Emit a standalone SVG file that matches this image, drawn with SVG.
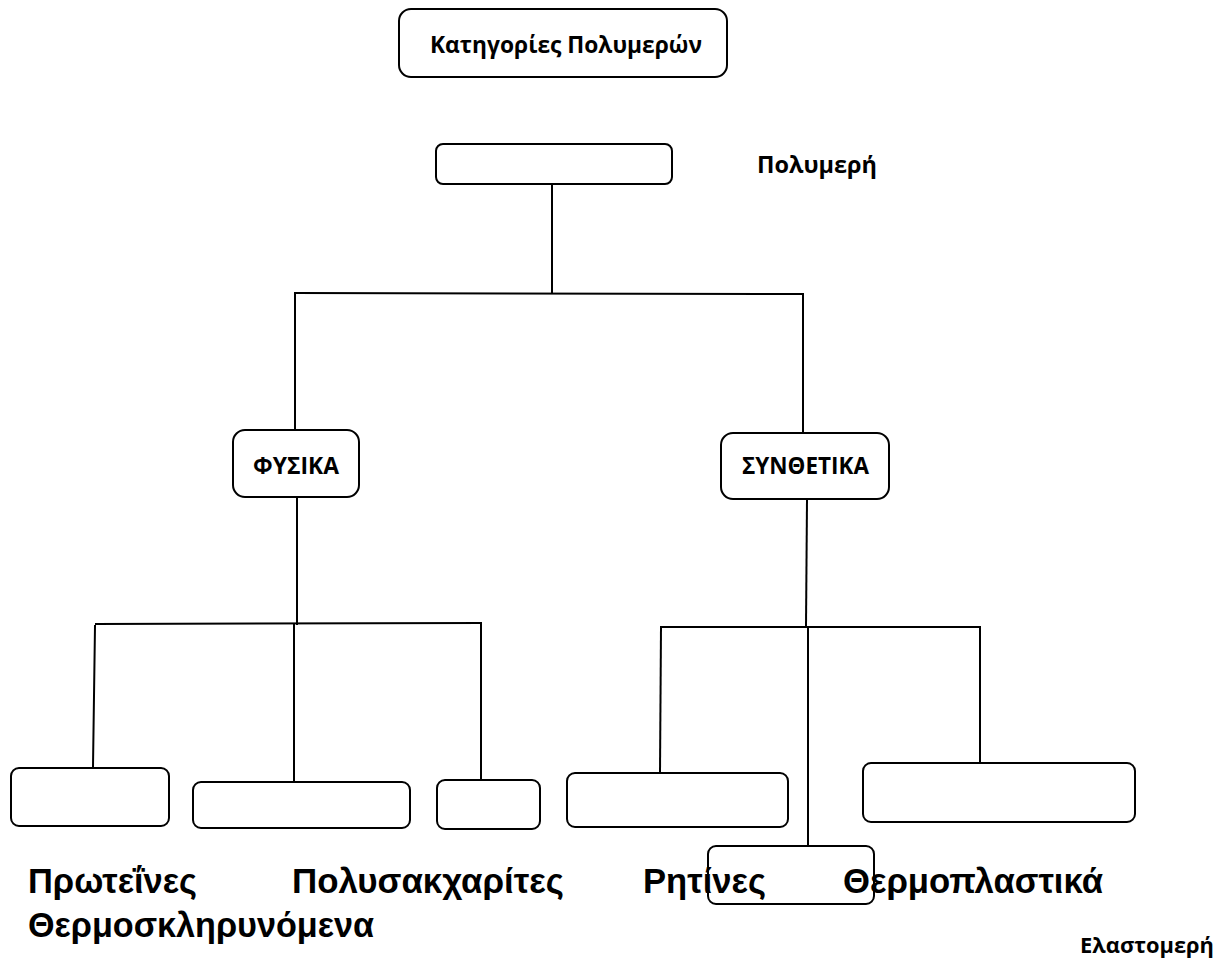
<svg xmlns="http://www.w3.org/2000/svg" width="1220" height="960" viewBox="0 0 1220 960">
<style>
.box{fill:#fff;stroke:#000;stroke-width:2}
.ln{stroke:#000;stroke-width:2;fill:none;stroke-linecap:square}
.s{font-family:"Open Sans","Noto Sans","DejaVu Sans",sans-serif;font-weight:bold;font-size:24px;fill:#000}
.b{font-family:"Liberation Sans",Arial,sans-serif;font-weight:bold;font-size:35px;fill:#000}
</style>
<rect width="1220" height="960" fill="#fff"/>
<g id="connectors">
<line class="ln" x1="552" y1="185" x2="552" y2="293"/>
<line class="ln" x1="295" y1="293" x2="803" y2="294"/>
<line class="ln" x1="295" y1="293" x2="295" y2="430"/>
<line class="ln" x1="803" y1="294" x2="803" y2="433"/>
<line class="ln" x1="297" y1="498" x2="297" y2="624"/>
<line class="ln" x1="96" y1="624" x2="481" y2="623"/>
<line class="ln" x1="95" y1="626" x2="93" y2="767"/>
<line class="ln" x1="294" y1="625" x2="294" y2="781"/>
<line class="ln" x1="481" y1="623" x2="481" y2="779"/>
<line class="ln" x1="807" y1="500" x2="806" y2="627"/>
<line class="ln" x1="661" y1="627" x2="979" y2="627"/>
<line class="ln" x1="661" y1="627" x2="660" y2="773"/>
<line class="ln" x1="808" y1="627" x2="808" y2="846"/>
<line class="ln" x1="980" y1="627" x2="980" y2="763"/>
</g>
<g id="title">
<rect class="box" x="399" y="9" width="328" height="68" rx="12"/>
<text class="s" x="430" y="53" textLength="272" lengthAdjust="spacingAndGlyphs">Κατηγορίες Πολυμερών</text>
</g>
<g id="polymers">
<rect class="box" x="436" y="144" width="236" height="40" rx="7"/>
</g>
<g id="label-polymers">
<text class="s" x="757" y="173" style="font-size:23px" textLength="120" lengthAdjust="spacingAndGlyphs">Πολυμερή</text>
</g>
<g id="natural">
<rect class="box" x="233" y="430" width="126" height="67" rx="12"/>
<text class="s" x="253" y="474" textLength="86" lengthAdjust="spacingAndGlyphs">ΦΥΣΙΚΑ</text>
</g>
<g id="synthetic">
<rect class="box" x="721" y="433" width="168" height="66" rx="12"/>
<text class="s" x="742" y="474" textLength="127" lengthAdjust="spacingAndGlyphs">ΣΥΝΘΕΤΙΚΑ</text>
</g>
<g id="box-n1"><rect class="box" x="11" y="768" width="158" height="58" rx="8"/></g>
<g id="box-n2"><rect class="box" x="193" y="782" width="217" height="46" rx="8"/></g>
<g id="box-n3"><rect class="box" x="437" y="780" width="103" height="49" rx="8"/></g>
<g id="box-s1"><rect class="box" x="567" y="773" width="221" height="54" rx="8"/></g>
<g id="box-s2"><rect class="box" x="863" y="763" width="272" height="59" rx="8"/></g>
<g id="labels">
<text class="b" x="28" y="893" textLength="169" lengthAdjust="spacingAndGlyphs">Πρωτεΐνες</text>
<text class="b" x="292" y="893" textLength="272" lengthAdjust="spacingAndGlyphs">Πολυσακχαρίτες</text>
<text class="b" x="643" y="893" textLength="123" lengthAdjust="spacingAndGlyphs">Ρητίνες</text>
<text class="b" x="843" y="893" textLength="260" lengthAdjust="spacingAndGlyphs">Θερμοπλαστικά</text>
<text class="b" x="28" y="937" textLength="346" lengthAdjust="spacingAndGlyphs">Θερμοσκληρυνόμενα</text>
<text class="s" x="1080" y="953" style="font-size:21px" textLength="134" lengthAdjust="spacingAndGlyphs">Ελαστομερή</text>
</g>
<g id="box-s3"><rect x="708" y="846" width="166" height="58" rx="8" fill="none" stroke="#000" stroke-width="2"/></g>
</svg>
